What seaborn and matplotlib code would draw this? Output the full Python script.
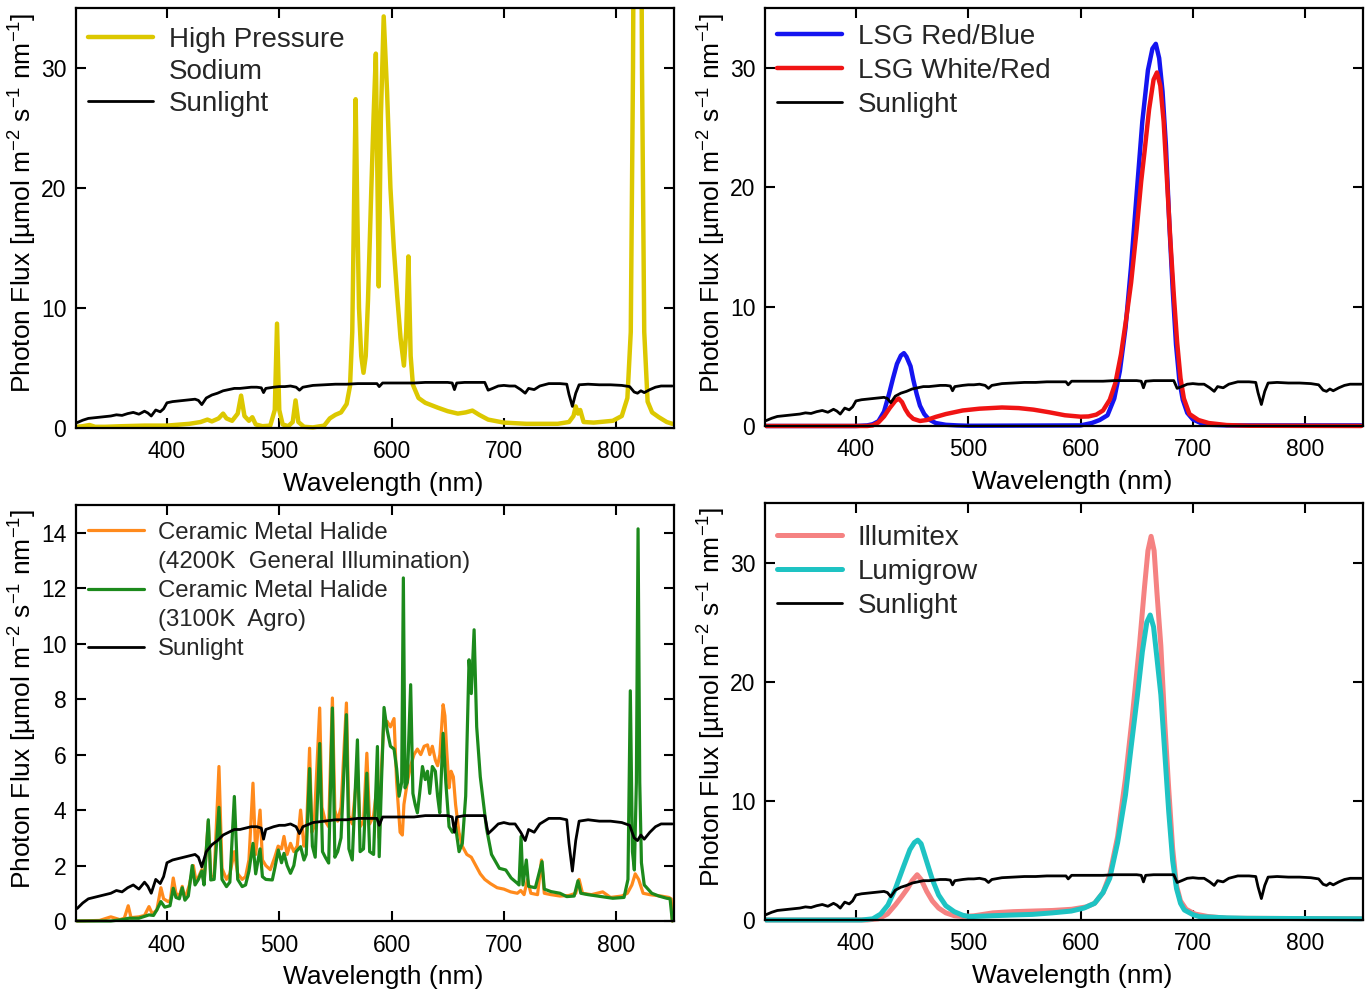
import numpy as np
import pandas as pd
import seaborn as sns
import matplotlib
matplotlib.use("Agg")
import matplotlib.pyplot as plt
from matplotlib.lines import Line2D
from matplotlib.transforms import Bbox, TransformedBbox

# ---------------- data ----------------
sun_wl = [320, 325, 330, 340, 350, 355, 360, 365, 370, 375, 380, 383, 386, 390, 394, 397,
          400, 405, 410, 415, 420, 425, 428, 431, 435, 440, 445, 450, 455, 460, 465, 470,
          475, 480, 484, 486, 488, 495, 500, 505, 510, 515, 518, 521, 530, 540, 550, 560,
          570, 580, 587, 589, 592, 600, 610, 620, 630, 640, 650, 654, 656, 658, 665, 675,
          683, 686, 690, 695, 700, 705, 710, 715, 719, 722, 727, 732, 740, 750, 756, 758,
          761, 764, 767, 775, 785, 795, 805, 812, 816, 819, 822, 825, 830, 835, 840, 850]
sun_flux = [0.45, 0.65, 0.8, 0.9, 1.0, 1.1, 1.05, 1.2, 1.3, 1.15, 1.4, 1.25, 1.0, 1.5, 1.35, 1.6,
            2.1, 2.2, 2.25, 2.3, 2.35, 2.4, 2.3, 1.95, 2.5, 2.75, 2.9, 3.1, 3.2, 3.3, 3.3, 3.35,
            3.4, 3.4, 3.35, 2.95, 3.3, 3.4, 3.45, 3.45, 3.5, 3.4, 3.15, 3.4, 3.55, 3.6, 3.65, 3.65,
            3.7, 3.7, 3.7, 3.45, 3.75, 3.75, 3.75, 3.75, 3.8, 3.8, 3.8, 3.75, 3.2, 3.75, 3.8, 3.8,
            3.8, 3.15, 3.3, 3.5, 3.55, 3.5, 3.5, 3.2, 2.9, 3.3, 3.2, 3.5, 3.7, 3.7, 3.65, 2.8,
            1.8, 2.9, 3.6, 3.65, 3.6, 3.6, 3.55, 3.45, 3.0, 2.9, 3.1, 2.95, 3.2, 3.4, 3.5, 3.5]

hps_wl = [320, 325, 331, 336, 345, 360, 380, 400, 420, 430, 436, 440, 446, 450, 453, 458,
          463, 466, 469, 473, 476, 479, 485, 492, 496, 498, 500, 503, 508, 512, 514.5, 517,
          522, 530, 540, 545, 550, 555, 560, 563, 565, 566.5, 568, 569.5, 571, 573, 575, 577,
          579, 582, 584, 586, 588.6, 590.5, 593, 596, 599, 602, 605, 608, 611, 613, 615, 617,
          619, 624, 630, 641, 650, 659, 666, 672, 678, 686, 700, 720, 748, 758, 762, 764,
          766, 768, 771, 780, 797, 805, 810, 813, 815, 817, 819, 821, 823, 825, 828, 832,
          838, 845, 850]
hps_flux = [0.1, 0.15, 0.25, 0.1, 0.1, 0.15, 0.2, 0.2, 0.35, 0.5, 0.7, 0.55, 0.8, 1.2, 0.8, 0.6,
            1.2, 2.7, 1.0, 0.6, 0.9, 0.3, 0.15, 0.2, 1.5, 8.7, 1.5, 0.3, 0.15, 0.5, 2.3, 0.5,
            0.1, 0.05, 0.2, 0.8, 1.1, 1.3, 2.0, 3.5, 8.0, 18.0, 27.4, 18.0, 10.0, 6.0, 4.6, 6.0,
            10.6, 20.0, 26.0, 31.2, 11.8, 26.0, 34.3, 28.0, 20.0, 15.0, 11.0, 7.5, 5.2, 8.0, 14.3, 6.0,
            3.6, 2.5, 2.1, 1.7, 1.4, 1.2, 1.3, 1.45, 1.1, 0.7, 0.45, 0.35, 0.35, 0.5, 1.0, 1.8,
            1.2, 1.5, 0.5, 0.45, 0.6, 1.0, 2.5, 8.0, 30.0, 70.0, 60.0, 70.0, 30.0, 8.0, 2.2, 1.3,
            0.9, 0.5, 0.35]

lsg_rb_wl = [320, 400, 410, 415, 420, 425, 429.5, 433, 436.5, 440, 442.7, 445, 448.6, 451, 454,
             457, 460.8, 465, 471, 480, 490, 500, 600, 610, 617, 624, 630, 635, 640, 645, 650,
             655, 660, 664, 667, 670, 673, 676, 679, 682, 685, 688, 691, 695, 700, 707, 715,
             730, 850]
lsg_rb_flux = [0, 0, 0.05, 0.15, 0.4, 1.2, 2.7, 4.0, 5.2, 5.9, 6.1, 5.8, 5.0, 3.9, 2.7,
               1.7, 1.0, 0.55, 0.25, 0.1, 0.05, 0.02, 0.05, 0.25, 0.5, 0.9, 2.3, 4.6, 8.2, 13.4, 19.5,
               25.5, 29.8, 31.6, 32.0, 30.8, 28.0, 23.5, 17.0, 11.5, 6.8, 3.8, 2.2, 1.1, 0.55, 0.25, 0.1,
               0.05, 0.05]

lsg_wr_wl = [320, 410, 415, 420, 425, 430, 435, 438, 441, 444, 447, 451, 457, 463, 471, 480,
             495, 510, 530, 545, 558, 572, 586, 600, 607, 614, 620, 626, 631, 636, 641, 645,
             650, 654, 657, 661, 665, 668, 671, 674, 677, 680, 683, 686, 689, 692, 697, 705,
             714, 730, 750, 850]
lsg_wr_flux = [0, 0, 0.05, 0.3, 0.8, 1.5, 2.1, 2.3, 2.0, 1.4, 0.95, 0.6, 0.42, 0.5, 0.76, 1.0,
               1.3, 1.45, 1.55, 1.5, 1.37, 1.15, 0.9, 0.78, 0.8, 0.95, 1.3, 2.2, 3.6, 6.0, 9.2, 12.0,
               16.5, 20.5, 23.0, 26.5, 29.0, 29.6, 28.5, 25.5, 20.5, 15.5, 11.0, 7.0, 4.0, 2.3, 1.0, 0.5,
               0.25, 0.08, 0.02, 0.0]

cmh4200_wl = [320, 340, 350, 358, 362, 365.5, 368, 375, 380, 384, 387, 391, 394.6, 397, 401, 403,
              405.6, 408, 411, 413.6, 416, 420, 423.5, 426, 431, 433, 436.8, 439, 442, 446.3, 449, 453,
              456, 460, 463, 467, 470, 473, 476.6, 479, 482.9, 485, 488, 492, 496, 499, 502, 504.2,
              507, 510, 513, 516, 519, 522, 524, 527, 529, 531, 536, 538, 541, 544, 547.3, 549.5,
              552, 555, 559.8, 562, 565, 569.6, 572, 575, 578, 580.5, 584, 587.4, 589, 591, 593, 596,
              599, 602.2, 604.5, 607.6, 609.6, 611, 614, 617, 620, 623, 626, 629, 632, 634, 636.3, 639,
              641, 643, 645.9, 647.5, 649, 651.2, 653, 655, 657, 660, 663, 667, 671, 675, 679, 683,
              688, 694, 700, 706, 712, 715, 718, 721, 724, 730, 733.5, 736, 742, 750, 758, 764,
              767, 770, 778, 788, 795, 805, 810, 814, 817, 820, 824, 830, 840, 847, 849, 850]
cmh4200_flux = [0.0, 0.02, 0.15, 0.05, 0.1, 0.55, 0.12, 0.15, 0.2, 0.52, 0.25, 0.4, 1.2, 0.8, 0.7, 0.75,
                1.55, 1.0, 0.9, 1.25, 0.8, 1.3, 2.0, 1.4, 1.85, 1.4, 3.6, 1.6, 1.6, 5.57, 1.9, 1.5,
                1.7, 2.5, 1.7, 1.5, 1.6, 2.2, 4.97, 2.4, 4.0, 2.2, 2.0, 1.85, 2.3, 2.7, 2.6, 3.05,
                2.4, 2.8, 2.5, 2.7, 4.0, 2.7, 3.0, 6.23, 3.2, 3.4, 7.68, 4.1, 3.6, 3.4, 8.04, 4.0,
                3.6, 4.1, 7.86, 3.8, 3.5, 5.5, 3.4, 3.6, 6.05, 3.5, 3.8, 5.0, 3.0, 5.5, 7.1, 7.2,
                7.0, 7.3, 5.0, 3.2, 3.1, 4.2, 5.0, 5.6, 6.0, 6.2, 6.0, 6.3, 6.35, 6.0, 6.3, 5.8,
                5.6, 6.0, 7.8, 7.4, 6.2, 4.8, 5.4, 5.2, 4.2, 3.2, 2.7, 2.4, 2.3, 2.0, 1.7, 1.5,
                1.35, 1.2, 1.15, 1.05, 1.0, 1.1, 0.95, 1.5, 1.0, 0.95, 2.2, 1.0, 0.95, 0.9, 0.92, 1.0,
                1.5, 1.0, 0.95, 1.05, 0.85, 0.9, 1.0, 1.3, 1.7, 1.5, 1.0, 0.95, 0.9, 0.85, 0.8, 0.0]

cmh3100_wl = [320, 350, 360, 366, 375, 384, 388, 391, 394.6, 398, 402.7, 405.6, 408, 411, 413.6, 416,
              419, 422.5, 425, 428, 431, 433, 436.8, 439, 442, 446.3, 449, 453, 456, 460, 463, 467,
              470, 473, 476.6, 479, 482.9, 485, 488, 493.8, 496, 499.2, 502, 504.2, 507, 510, 513, 515,
              519, 522, 524, 527, 529.5, 532, 536, 538.5, 541, 544, 547.3, 549.5, 552, 555, 559.8, 562,
              565, 569.6, 572, 575, 578, 580.5, 584, 587.4, 589, 591, 593.3, 596, 599, 602.2, 604.5, 606.7,
              609, 610.5, 612, 614, 617, 619, 621, 623, 625, 627.5, 630, 632, 634, 636.3, 639, 641,
              642.9, 645.9, 648.3, 651.2, 654.2, 657, 660.1, 663, 666, 669, 671, 673.5, 675.8, 679, 684.5, 689,
              696, 701.7, 706.5, 712, 713.5, 715.3, 717, 720, 722, 728, 734, 736, 742, 750, 756, 762.6,
              766, 768.5, 775, 787, 797, 807, 810.5, 812.6, 814.5, 816.2, 818, 819.5, 821, 822.5, 825, 831.7,
              838, 845, 848, 850]
cmh3100_flux = [0.0, 0.0, 0.05, 0.1, 0.1, 0.22, 0.2, 0.4, 0.7, 0.5, 0.55, 1.18, 0.85, 0.8, 1.2, 0.75,
                0.9, 2.0, 1.3, 1.5, 1.8, 1.3, 3.65, 1.48, 1.5, 4.1, 1.5, 1.24, 1.4, 4.49, 1.5, 1.24,
                1.3, 1.8, 2.8, 1.7, 2.6, 1.6, 1.5, 1.48, 1.9, 2.56, 2.1, 2.44, 2.0, 1.72, 2.0, 2.5,
                2.68, 2.2, 2.4, 5.5, 2.7, 2.3, 6.4, 2.5, 2.3, 2.09, 7.68, 2.3, 2.5, 3.0, 7.44, 2.6,
                2.2, 6.53, 2.5, 2.6, 5.33, 2.5, 2.4, 6.29, 2.32, 5.0, 7.7, 6.9, 6.3, 6.2, 5.5, 4.5,
                5.0, 12.37, 4.8, 5.0, 8.52, 4.6, 4.2, 3.9, 4.6, 5.57, 5.1, 5.4, 4.6, 5.57, 5.4, 4.5,
                3.9, 6.77, 5.0, 3.4, 3.2, 3.4, 2.5, 2.8, 4.5, 9.42, 8.2, 10.5, 7.0, 5.2, 3.35, 2.4,
                1.9, 1.84, 1.55, 1.36, 1.3, 3.05, 1.3, 2.2, 1.25, 1.2, 2.14, 1.15, 1.06, 1.0, 0.88, 0.9,
                1.45, 1.0, 0.95, 0.88, 0.82, 0.85, 1.5, 8.3, 2.5, 1.84, 5.0, 14.14, 5.0, 2.1, 1.3, 1.0,
                0.9, 0.82, 0.8, 0.0]

illumitex_wl = [320, 410, 420, 428, 435, 441, 446, 450, 454.5, 458, 463, 468, 473.6, 480, 487.5, 495,
                505, 522, 540, 557, 575, 592, 605, 612.5, 620, 626, 633, 640, 646, 652.4, 657, 660,
                662.8, 665.5, 668, 671.5, 675, 678.5, 682, 685.4, 689, 694, 702, 713, 730, 850]
illumitex_flux = [0, 0, 0.1, 0.5, 1.26, 2.0, 2.65, 3.3, 3.8, 3.4, 2.4, 1.6, 1.0, 0.6, 0.36, 0.3,
                  0.35, 0.6, 0.7, 0.75, 0.8, 0.9, 1.1, 1.4, 2.3, 3.8, 7.0, 11.9, 17.0, 23.0, 28.0, 31.0,
                  32.2, 31.0, 27.5, 23.0, 16.5, 11.0, 6.0, 2.9, 1.6, 0.9, 0.5, 0.3, 0.15, 0.1]

lumigrow_wl = [320, 405, 415, 422, 428.5, 435, 442, 448, 452, 455, 458, 463, 468, 473.6, 480, 487.5,
               495, 501, 522, 540, 557, 575, 591.7, 603, 612.5, 620, 626, 633, 640, 645, 650.7, 655,
               659, 662, 665, 668, 671.5, 675, 678.5, 682, 685.4, 689, 692.4, 700, 706, 730, 748, 850]
lumigrow_flux = [0, 0, 0.1, 0.5, 1.26, 2.6, 4.4, 5.9, 6.5, 6.7, 6.4, 4.9, 3.4, 2.1, 1.2, 0.7,
                 0.4, 0.28, 0.36, 0.42, 0.47, 0.6, 0.75, 1.0, 1.4, 2.3, 3.5, 6.5, 10.5, 14.5, 18.9, 22.5,
                 25.0, 25.6, 24.6, 22.0, 18.9, 14.0, 9.1, 5.0, 2.65, 1.4, 0.84, 0.45, 0.28, 0.18, 0.14, 0.1]

x_ticks = [400, 500, 600, 700, 800]
xlabel = "Wavelength (nm)"
ylabel = "Photon Flux [µmol m$^{-2}$ s$^{-1}$ nm$^{-1}$]"

# ---------------- style ----------------
sns.set_theme(style="ticks")
plt.rcParams["font.family"] = ["Liberation Sans", "DejaVu Sans"]
plt.rcParams["mathtext.fontset"] = "custom"
plt.rcParams["mathtext.rm"] = "Liberation Sans"
plt.rcParams["mathtext.it"] = "Liberation Sans:italic"
plt.rcParams["mathtext.bf"] = "Liberation Sans:bold"
plt.rcParams["axes.linewidth"] = 1.6
plt.rcParams["axes.edgecolor"] = "black"

fig = plt.figure(figsize=(13.72, 9.9), dpi=100)

W, H = 1372.0, 990.0
def pos(l, t, r, b):
    return [l / W, 1 - b / H, (r - l) / W, (b - t) / H]

SUN_C = "black"

def panel(rect, series, ymax, yticks, legend_rows, leg_fs, leg_anchor, line_spacing):
    ax = fig.add_axes(rect)
    for wl, fl, color, lw in series:
        sns.lineplot(x=wl, y=fl, ax=ax, color=color, linewidth=lw, legend=False,
                     estimator=None, sort=False)
    sns.lineplot(x=sun_wl, y=sun_flux, ax=ax, color=SUN_C, linewidth=2.0, legend=False,
                 estimator=None, sort=False)
    clip = TransformedBbox(Bbox([[0, -0.012], [1, 1]]), ax.transAxes)
    for ln in ax.lines:
        ln.set_clip_box(clip)
        ln.set_solid_joinstyle("round")
    ax.set_xlim(319, 851.5)
    ax.set_ylim(0, ymax)
    ax.set_xticks(x_ticks)
    ax.set_yticks(yticks)
    ax.tick_params(direction="in", length=7, width=1.5, top=True, right=True,
                   labelsize=16.5, pad=9, colors="black")
    ax.tick_params(axis="y", pad=7)
    ax.set_xlabel(xlabel, fontsize=19, labelpad=6, color="black")
    ax.set_ylabel(ylabel, fontsize=19, labelpad=1, color="black")
    ax.xaxis.label.set_x(0.513)
    ax.yaxis.label.set_y(0.535)
    handles, labels = [], []
    for lab, color, lw in legend_rows:
        handles.append(Line2D([], [], color=color if color else "none", linewidth=lw))
        labels.append(lab)
    ax.legend(handles, labels, loc="upper left", bbox_to_anchor=leg_anchor, frameon=False,
              fontsize=leg_fs, handlelength=2.35, handletextpad=0.55,
              labelspacing=line_spacing, borderaxespad=0, borderpad=0)
    return ax

# top-left: HPS
panel(pos(76, 8, 674, 428),
      [(hps_wl, hps_flux, "#dcc800", 3.2)],
      35, [0, 10, 20, 30],
      [("High Pressure", "#dcc800", 3.2), ("Sodium", None, 3), ("Sunlight", "black", 2.0)],
      20, (0.02, 0.955), 0.22)

# top-right: LSG
panel(pos(765, 8, 1363, 426),
      [(lsg_rb_wl, lsg_rb_flux, "#1414f0", 3.2), (lsg_wr_wl, lsg_wr_flux, "#f01414", 3.2)],
      35, [0, 10, 20, 30],
      [("LSG Red/Blue", "#1414f0", 3.2), ("LSG White/Red", "#f01414", 3.2), ("Sunlight", "black", 2.0)],
      20, (0.02, 0.962), 0.29)

# bottom-left: CMH
panel(pos(76, 505, 674, 921),
      [(cmh4200_wl, cmh4200_flux, "#ff8a1c", 2.3), (cmh3100_wl, cmh3100_flux, "#1c8a1c", 2.3)],
      15, [0, 2, 4, 6, 8, 10, 12, 14],
      [("Ceramic Metal Halide", "#ff8a1c", 2.3), ("(4200K  General Illumination)", None, 2),
       ("Ceramic Metal Halide", "#1c8a1c", 2.3), ("(3100K  Agro)", None, 2),
       ("Sunlight", "black", 2.0)],
      17.3, (0.02, 0.96), 0.3)

# bottom-right: Illumitex / Lumigrow
panel(pos(765, 503, 1363, 920),
      [(illumitex_wl, illumitex_flux, "#f58282", 3.6), (lumigrow_wl, lumigrow_flux, "#1ec3c3", 3.6)],
      35, [0, 10, 20, 30],
      [("Illumitex", "#f58282", 3.6), ("Lumigrow", "#1ec3c3", 3.6), ("Sunlight", "black", 2.0)],
      20, (0.02, 0.948), 0.29)

fig.savefig("out.png", dpi=100, facecolor="white")
